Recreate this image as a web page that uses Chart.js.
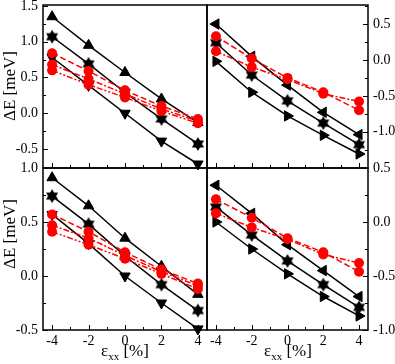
<!DOCTYPE html>
<html>
<head>
<meta charset="utf-8">
<script src="https://cdn.jsdelivr.net/npm/chart.js@4.4.1/dist/chart.umd.min.js"></script>
<style>
  html, body { margin: 0; padding: 0; background: #fff; }
  #wrap { position: relative; width: 395px; height: 364px; }
  #wrap canvas { position: absolute; left: 0; top: 0; }
</style>
</head>
<body>
<div id="wrap">
  <canvas id="tl" width="395" height="364"></canvas>
  <canvas id="tr" width="395" height="364"></canvas>
  <canvas id="bl" width="395" height="364"></canvas>
  <canvas id="br" width="395" height="364"></canvas>
</div>
<script>
// strain values (x) and tick labels
const strain = [-4, -2, 0, 2, 4];
const xTicks = [-4, -2, 0, 2, 4];

// top-left panel
const tlUp   = [1.35, 0.95, 0.57, 0.20, -0.13];
const tlStar = [1.07, 0.69, 0.29, -0.08, -0.43];
const tlDown = [0.78, 0.39, 0.00, -0.39, -0.71];
const tlRedA = [0.84, 0.59, 0.32, 0.10, -0.08];
const tlRedB = [0.68, 0.48, 0.27, 0.06, -0.11];
const tlRedC = [0.60, 0.40, 0.22, 0.03, -0.14];
const tlYTicks = [-0.5, 0, 0.5, 1.0, 1.5];

// top-right panel
const trLeft  = [0.50, 0.05, -0.35, -0.73, -1.04];
const trStar  = [0.24, -0.21, -0.57, -0.88, -1.18];
const trRight = [-0.02, -0.45, -0.78, -1.05, -1.31];
const trRedA  = [0.33, 0.02, -0.25, -0.45, -0.70];
const trRedB  = [0.12, -0.10, -0.27, -0.47, -0.58];
const trYTicks = [-1.0, -0.5, 0, 0.5];

// bottom-left panel
const blUp   = [0.91, 0.65, 0.35, 0.09, -0.17];
const blStar = [0.74, 0.48, 0.185, -0.08, -0.32];
const blDown = [0.57, 0.30, 0.00, -0.25, -0.49];
const blRedA = [0.57, 0.41, 0.22, 0.06, -0.07];
const blRedB = [0.47, 0.35, 0.19, 0.04, -0.09];
const blRedC = [0.41, 0.29, 0.16, 0.02, -0.12];
const blYTicks = [-0.5, 0, 0.5, 1.0];

// bottom-right panel
const brLeft  = [0.34, 0.08, -0.21, -0.45, -0.69];
const brStar  = [0.14, -0.12, -0.36, -0.58, -0.79];
const brRight = [0.00, -0.25, -0.48, -0.69, -0.87];
const brRedA  = [0.21, 0.04, -0.15, -0.28, -0.46];
const brRedB  = [0.08, -0.05, -0.16, -0.30, -0.38];
const brYTicks = [-1.0, -0.5, 0, 0.5];

const W = 395, H = 364;
const FONT = '"Liberation Serif", "Times New Roman", serif';

// filled six-pointed star used as a point style
function hexStar(r) {
  const s = Math.ceil(r * 2) + 2;
  const c = document.createElement('canvas');
  c.width = s; c.height = s;
  const g = c.getContext('2d');
  g.fillStyle = '#000';
  g.translate(s / 2, s / 2);
  for (const off of [-Math.PI / 2, Math.PI / 2]) {
    g.beginPath();
    for (let k = 0; k < 3; k++) {
      const a = off + k * 2 * Math.PI / 3;
      if (k === 0) g.moveTo(r * Math.cos(a), r * Math.sin(a));
      else g.lineTo(r * Math.cos(a), r * Math.sin(a));
    }
    g.closePath();
    g.fill();
  }
  return c;
}
const star = hexStar(7);

const pts = arr => strain.map((x, i) => ({ x, y: arr[i] }));

function black(arr, style, rot) {
  return {
    data: pts(arr),
    borderColor: '#000',
    borderWidth: 1.5,
    pointStyle: style,
    rotation: rot || 0,
    pointRadius: 6,
    pointBackgroundColor: '#000',
    pointBorderColor: '#000',
    pointBorderWidth: 1,
    tension: 0,
    clip: false,
    order: 1
  };
}

function red(arr, dash) {
  return {
    data: pts(arr),
    borderColor: '#ff0000',
    borderWidth: 1.5,
    borderDash: dash,
    pointStyle: 'circle',
    pointRadius: 5,
    pointBackgroundColor: '#ff0000',
    pointBorderColor: '#ff0000',
    pointBorderWidth: 0,
    tension: 0,
    clip: false,
    order: 0
  };
}

const dashA = [6, 3];
const dashB = [6, 2, 2, 2];
const dashC = [6, 2, 2, 2, 2, 2];

// tick marks with minor ticks between major ones
function withMinors(vals, min, max) {
  const out = vals.map(v => ({ v, major: true }));
  for (let i = 0; i < vals.length - 1; i++) out.push({ v: (vals[i] + vals[i + 1]) / 2, major: false });
  const step = vals[1] - vals[0];
  const lo = vals[0] - step / 2, hi = vals[vals.length - 1] + step / 2;
  if (lo > min) out.push({ v: lo, major: false });
  if (hi < max) out.push({ v: hi, major: false });
  return out;
}

function framePlugin(side, yTicks) {
  return {
    id: 'frame',
    beforeDatasetsDraw(chart) {
      const { ctx, chartArea: a, scales: { x, y } } = chart;
      ctx.save();
      ctx.strokeStyle = '#000';
      ctx.lineWidth = 1.5;
      ctx.strokeRect(a.left, a.top, a.right - a.left, a.bottom - a.top);
      ctx.lineWidth = 1;
      ctx.beginPath();
      for (const t of withMinors(xTicks, x.min, x.max)) {
        const px = Math.round(x.getPixelForValue(t.v)) + 0.5;
        ctx.moveTo(px, a.bottom);
        ctx.lineTo(px, a.bottom - (t.major ? 5 : 3));
      }
      const edge = side === 'right' ? a.right : a.left;
      const dir = side === 'right' ? -1 : 1;
      for (const t of withMinors(yTicks, y.min, y.max)) {
        const py = Math.round(y.getPixelForValue(t.v)) + 0.5;
        ctx.moveTo(edge, py);
        ctx.lineTo(edge + dir * (t.major ? 5 : 3), py);
      }
      ctx.stroke();
      ctx.restore();
    }
  };
}

function textPlugin(items) {
  return {
    id: 'panelText',
    afterDraw(chart) {
      const ctx = chart.ctx;
      for (const t of items) {
        ctx.save();
        ctx.translate(t.x, t.y);
        if (t.rot) ctx.rotate(t.rot);
        ctx.fillStyle = '#000';
        ctx.textAlign = 'left';
        ctx.textBaseline = t.baseline || 'alphabetic';
        let total = 0;
        for (const p of t.parts) {
          ctx.font = p.size + 'px ' + FONT;
          total += ctx.measureText(p.text).width;
        }
        let cx = -total / 2;
        for (const p of t.parts) {
          ctx.font = p.size + 'px ' + FONT;
          ctx.fillText(p.text, cx, p.dy || 0);
          cx += ctx.measureText(p.text).width;
        }
        ctx.restore();
      }
    }
  };
}

// fixed axis box sizes so the plot area lands where the reference has it
function fixSize(size) {
  return scale => {
    if (scale.isHorizontal()) scale.height = size; else scale.width = size;
    scale.paddingTop = 0; scale.paddingBottom = 0;
    scale.paddingLeft = 0; scale.paddingRight = 0;
  };
}

const yTitle = (cx, cy) => ({ x: cx, y: cy, rot: -Math.PI / 2, baseline: 'middle',
  parts: [{ text: 'ΔE [meV]', size: 17 }] });
const xTitle = (cx, by) => ({ x: cx, y: by,
  parts: [{ text: 'ε', size: 17 }, { text: 'xx', size: 11, dy: 4 }, { text: ' [%]', size: 17 }] });

function makePanel(id, p) {
  const [l, t, r, b] = p.area;
  const yW = p.side === 'left' ? l : W - r;
  const xH = p.xLabels ? H - b : 0;
  const pad = {
    left: p.side === 'left' ? 0 : l,
    right: p.side === 'right' ? 0 : W - r,
    top: t,
    bottom: H - b - xH
  };
  new Chart(document.getElementById(id), {
    type: 'line',
    data: { datasets: p.datasets },
    options: {
      responsive: false,
      animation: false,
      events: [],
      layout: { autoPadding: false, padding: pad },
      plugins: { legend: { display: false }, tooltip: { enabled: false } },
      scales: {
        x: {
          type: 'linear', min: -4.5, max: 4.5,
          grid: { display: false, drawTicks: false }, border: { display: false },
          ticks: {
            display: p.xLabels, autoSkip: false, padding: 3, color: '#000',
            font: { family: FONT, size: 14 },
            callback: v => String(v)
          },
          afterBuildTicks: s => { s.ticks = xTicks.map(v => ({ value: v })); },
          afterFit: fixSize(xH)
        },
        y: {
          type: 'linear', position: p.side, min: p.ymin, max: p.ymax,
          grid: { display: false, drawTicks: false }, border: { display: false },
          ticks: {
            autoSkip: false, padding: 5, color: '#000',
            font: { family: FONT, size: 14 },
            callback: v => v.toFixed(1)
          },
          afterBuildTicks: s => { s.ticks = p.yTicks.map(v => ({ value: v })); },
          afterFit: fixSize(yW)
        }
      }
    },
    plugins: [framePlugin(p.side, p.yTicks), textPlugin(p.texts)]
  });
}

makePanel('tl', {
  area: [43, 5, 207, 168], side: 'left', ymin: -0.766, ymax: 1.514, yTicks: tlYTicks, xLabels: false,
  texts: [yTitle(11, 86)],
  datasets: [black(tlUp, 'triangle'), black(tlStar, star), black(tlDown, 'triangle', 180),
             red(tlRedA, dashA), red(tlRedB, dashB), red(tlRedC, dashC)]
});
makePanel('tr', {
  area: [207, 5, 368, 168], side: 'right', ymin: -1.505, ymax: 0.765, yTicks: trYTicks, xLabels: false,
  texts: [],
  datasets: [black(trLeft, 'triangle', -90), black(trStar, star), black(trRight, 'triangle', 90),
             red(trRedA, dashA), red(trRedB, dashB)]
});
makePanel('bl', {
  area: [43, 168, 207, 330], side: 'left', ymin: -0.5, ymax: 1.0, yTicks: blYTicks, xLabels: true,
  texts: [yTitle(11, 234), xTitle(125, 356)],
  datasets: [black(blUp, 'triangle'), black(blStar, star), black(blDown, 'triangle', 180),
             red(blRedA, dashA), red(blRedB, dashB), red(blRedC, dashC)]
});
makePanel('br', {
  area: [207, 168, 368, 330], side: 'right', ymin: -1.0, ymax: 0.5, yTicks: brYTicks, xLabels: true,
  texts: [xTitle(288, 356)],
  datasets: [black(brLeft, 'triangle', -90), black(brStar, star), black(brRight, 'triangle', 90),
             red(brRedA, dashA), red(brRedB, dashB)]
});
</script>
</body>
</html>
